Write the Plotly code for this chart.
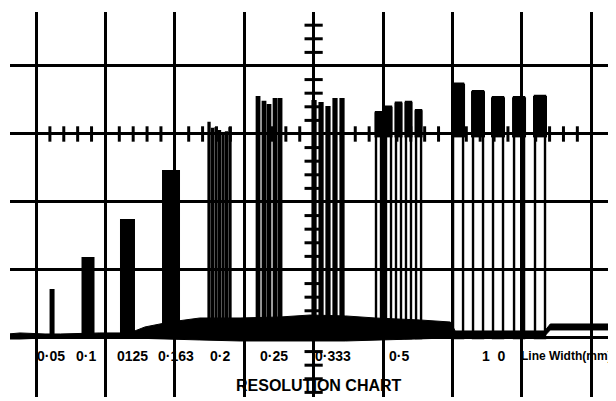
import numpy as np
import plotly.graph_objects as go

# ---------------- data (in graticule divisions) ----------------
group_labels = ["0·05", "0·1", "0125", "0·163", "0·2", "0·25", "0·333", "0·5", "1  0"]
label_x = [0.216, 0.720, 1.383, 2.017, 2.651, 3.429, 4.280, 5.231, 6.599]

# solid pulse groups
p005_x, p005_top = [0.231], [0.72]
p01_x, p01_top = [0.749], [1.19]
p0125_x, p0125_top = [1.318], [1.75]
p0163_x, p0163_top = [1.945], [2.47]
p02_x = [2.493, 2.543, 2.594, 2.644, 2.695, 2.745, 2.795]
p02_top = [3.18, 3.09, 3.10, 3.06, 3.03, 3.04, 3.10]
p025_x = [3.199, 3.285, 3.357, 3.444, 3.516]
p025_top = [3.56, 3.49, 3.44, 3.53, 3.53]
p0333_x = [4.006, 4.107, 4.207, 4.308, 4.409]
p0333_top = [3.50, 3.47, 3.41, 3.53, 3.53]
# outlined pulse groups (two legs + bright top)
p05_x = [4.935, 5.079, 5.223, 5.367, 5.512]
p05_top = [3.32, 3.40, 3.46, 3.47, 3.35]
p10_x = [6.081, 6.369, 6.657, 6.960, 7.262]
p10_top = [3.74, 3.63, 3.54, 3.54, 3.56]

# trace baseline envelope
base_x = [-0.4, -0.23, 0.13, 0.35, 0.92, 1.35, 1.57, 1.93, 2.36, 2.94, 3.52, 3.95,
          4.46, 4.89, 5.53, 5.97, 6.04, 7.33, 7.41, 8.4]
base_top = [0.059, 0.074, 0.059, 0.059, 0.074, 0.074, 0.162, 0.235, 0.294, 0.294,
            0.309, 0.338, 0.324, 0.294, 0.265, 0.235, 0.103, 0.103, 0.206, 0.206]
base_bot = [-0.015, -0.015, 0.0, 0.0, 0.0, 0.0, 0.0, -0.015, -0.029, -0.044,
            -0.044, -0.044, -0.044, -0.029, -0.015, 0.0, 0.029, 0.029, 0.118, 0.118]

x_title = "Line Width(mm)"
chart_title = "RESOLUTION CHART"

# ---------------- geometry ----------------
# the page body has an 8px margin, so the figure is 8px smaller each way
W, H = 608, 393
ML, MR, MT, MB = 2, 0, 4, 4
XR = [-0.375, 8.357]
YR = [-0.868, 4.794]
PX = (W - ML - MR) / (XR[1] - XR[0])  # px per division


def w(px):
    return px / PX


fig = go.Figure()

# baseline band
fig.add_trace(go.Scatter(
    x=base_x + base_x[::-1], y=base_top + base_bot[::-1],
    fill="toself", fillcolor="black", mode="lines",
    line=dict(color="black", width=1), hoverinfo="skip"))

solid = [(p005_x, p005_top, 5), (p01_x, p01_top, 13), (p0125_x, p0125_top, 15),
         (p0163_x, p0163_top, 18), (p02_x, p02_top, 3.3), (p025_x, p025_top, 4.8),
         (p0333_x, p0333_top, 5.2)]
for xs, tops, wp in solid:
    fig.add_trace(go.Bar(x=xs, y=tops, base=0, width=[w(wp)] * len(xs),
                         marker=dict(color="black", line=dict(width=0))))

for xs, tops, legw, blobw in [(p05_x, p05_top, 5, 8), (p10_x, p10_top, 10, 14)]:
    fig.add_trace(go.Bar(x=xs, y=tops, base=0, width=[w(legw)] * len(xs),
                         marker=dict(color="rgba(0,0,0,0)",
                                     line=dict(color="black", width=2.4))))
    blob_bottom = 2.95
    fig.add_trace(go.Bar(x=xs, y=[t - blob_bottom for t in tops], base=blob_bottom,
                         width=[w(blobw)] * len(xs),
                         marker=dict(color="black", line=dict(width=0))))

# graticule ticks on centre lines
hx = [i * 0.2 for i in range(1, 40) if i % 5 != 0]
fig.add_trace(go.Scatter(x=hx, y=[3] * len(hx), mode="markers",
                         marker=dict(symbol="line-ns", size=11,
                                     line=dict(color="black", width=3)),
                         hoverinfo="skip"))
vy = [round(i * 0.2, 2) for i in range(-4, 24) if i % 5 != 0]
fig.add_trace(go.Scatter(x=[4] * len(vy), y=vy, mode="markers",
                         marker=dict(symbol="line-ew", size=13,
                                     line=dict(color="black", width=3)),
                         hoverinfo="skip"))

font = "Liberation Sans, Arial, sans-serif"
ann = []
for t, x in zip(group_labels, label_x):
    ann.append(dict(x=x, y=-0.265, text="<b>" + t + "</b>", showarrow=False,
                    font=dict(family=font, size=14, color="black"),
                    xanchor="center", yanchor="middle"))
ann.append(dict(x=8.33, y=-0.265, text="<b>" + x_title + "</b>", showarrow=False,
                font=dict(family=font, size=12, color="black"),
                xanchor="right", yanchor="middle"))
ann.append(dict(x=4.078, y=-0.706, text="<b>" + chart_title + "</b>", showarrow=False,
                font=dict(family=font, size=16, color="black"),
                xanchor="center", yanchor="middle"))

fig.update_layout(
    width=W, height=H, margin=dict(l=ML, r=MR, t=MT, b=MB),
    paper_bgcolor="white", plot_bgcolor="white",
    showlegend=False, barmode="overlay", annotations=ann,
    xaxis=dict(range=XR, tick0=0, dtick=1, showgrid=True, gridcolor="black",
               gridwidth=3, zeroline=False, showticklabels=False, ticks="",
               showline=False, fixedrange=True),
    yaxis=dict(range=YR, tick0=0, dtick=1, showgrid=True, gridcolor="black",
               gridwidth=3, zeroline=False, showticklabels=False, ticks="",
               showline=False, fixedrange=True),
)

fig.write_html("out.html")
